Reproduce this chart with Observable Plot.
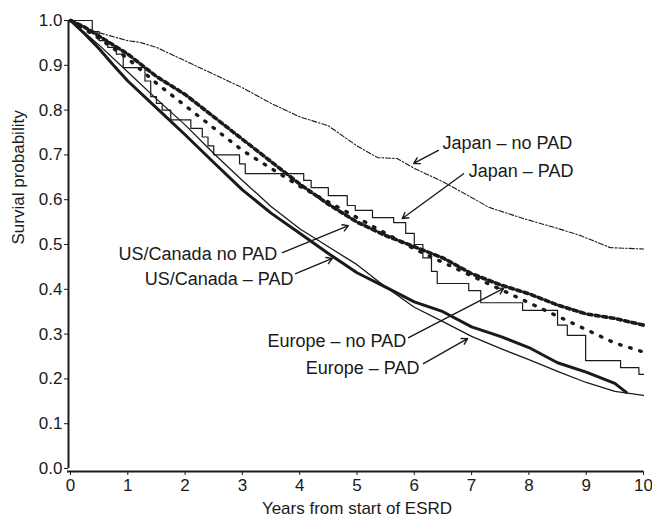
<!DOCTYPE html>
<html>
<head>
<meta charset="utf-8">
<script src="https://cdn.jsdelivr.net/npm/d3@7"></script>
<script src="https://cdn.jsdelivr.net/npm/@observablehq/plot@0.6"></script>
<style>
  html, body { margin: 0; padding: 0; background: #fff; }
  #chart { width: 652px; height: 518px; }
  svg { font-family: "Liberation Sans", Arial, Helvetica, sans-serif; }
</style>
</head>
<body>
<div id="chart"></div>
<script>
// ---- Data ----
const japanNoPadT = [0, 0.35, 1, 1.22, 1.5, 2, 2.5, 3, 3.5, 4, 4.5, 5, 5.36, 5.7, 6, 6.5, 7, 7.3, 7.9, 8.5, 8.9, 9.42, 10];
const japanNoPadS = [1, 0.978, 0.955, 0.951, 0.94, 0.91, 0.88, 0.85, 0.815, 0.785, 0.765, 0.72, 0.694, 0.692, 0.67, 0.64, 0.605, 0.583, 0.558, 0.536, 0.52, 0.493, 0.49];

const japanPadT = [0, 0.38, 0.5, 0.65, 0.8, 0.92, 1.3, 1.4, 1.5, 1.6, 1.75, 2.1, 2.3, 2.4, 2.5, 2.95, 3.05, 4.07, 4.2, 4.5, 4.83, 4.97, 5.27, 5.64, 5.85, 6.0, 6.15, 6.3, 6.4, 6.95, 7.16, 7.89, 8.5, 8.67, 8.99, 9.6, 9.92, 10];
const japanPadS = [1, 0.975, 0.955, 0.94, 0.925, 0.895, 0.865, 0.83, 0.815, 0.8, 0.778, 0.759, 0.74, 0.72, 0.7, 0.68, 0.658, 0.643, 0.627, 0.609, 0.587, 0.576, 0.56, 0.549, 0.525, 0.5, 0.47, 0.44, 0.413, 0.397, 0.37, 0.353, 0.32, 0.297, 0.241, 0.225, 0.21, 0.21];

const usNoPadT = [0, 0.25, 0.5, 1, 1.5, 2, 2.5, 3, 3.5, 4, 4.5, 5, 5.5, 6, 6.5, 7, 7.5, 8, 8.5, 9, 9.5, 10];
const usNoPadS = [1, 0.985, 0.965, 0.925, 0.875, 0.835, 0.785, 0.735, 0.685, 0.635, 0.59, 0.55, 0.52, 0.495, 0.47, 0.435, 0.41, 0.39, 0.365, 0.345, 0.335, 0.32];

const usPadT = [0, 0.25, 0.5, 0.75, 1, 1.5, 2, 2.5, 3, 3.5, 4, 4.5, 5, 5.5, 6, 6.5, 7, 7.5, 8, 8.5, 9, 9.5, 9.7];
const usPadS = [1, 0.97, 0.937, 0.9, 0.865, 0.805, 0.745, 0.683, 0.622, 0.57, 0.525, 0.48, 0.437, 0.405, 0.372, 0.35, 0.316, 0.295, 0.27, 0.236, 0.215, 0.19, 0.17];

const euNoPadT = [0, 0.5, 1, 1.5, 2, 2.5, 3, 3.5, 4, 4.5, 5, 5.5, 6, 6.5, 7, 7.5, 8, 8.5, 9, 9.5, 10];
const euNoPadS = [1, 0.96, 0.915, 0.86, 0.81, 0.76, 0.71, 0.67, 0.63, 0.595, 0.56, 0.525, 0.49, 0.46, 0.43, 0.4, 0.37, 0.34, 0.31, 0.28, 0.26];

const euPadT = [0, 0.5, 1, 1.5, 2, 2.5, 3, 3.5, 4, 4.5, 5, 5.5, 6, 6.5, 7, 7.5, 8, 8.5, 9, 9.5, 10];
const euPadS = [1, 0.945, 0.885, 0.825, 0.767, 0.703, 0.643, 0.585, 0.535, 0.495, 0.455, 0.405, 0.36, 0.328, 0.295, 0.268, 0.243, 0.217, 0.192, 0.172, 0.163];

// annotation labels and their arrows
const labelText   = ["Japan – no PAD", "Japan – PAD", "US/Canada no PAD", "US/Canada – PAD", "Europe – no PAD", "Europe – PAD"];
const labelX      = [6.49, 6.95, 3.61, 3.89, 5.86, 6.09];
const labelY      = [0.725, 0.663, 0.478, 0.422, 0.283, 0.223];
const labelAnchor = ["start", "start", "end", "end", "end", "end"];
const arrowX1 = [6.42, 6.86, 3.70, 3.93, 5.90, 6.16];
const arrowY1 = [0.71, 0.658, 0.482, 0.435, 0.292, 0.234];
const arrowX2 = [5.99, 5.79, 4.85, 4.57, 7.56, 6.93];
const arrowY2 = [0.681, 0.558, 0.542, 0.469, 0.402, 0.29];

const xTicks = [0, 1, 2, 3, 4, 5, 6, 7, 8, 9, 10];
const yTicks = [0, 0.1, 0.2, 0.3, 0.4, 0.5, 0.6, 0.7, 0.8, 0.9, 1.0];
const xTitle = "Years from start of ESRD";
const yTitle = "Survial probability";

// ---- build tables ----
const toRows = (T, S) => T.map((t, i) => ({t, s: S[i]}));
const japanNoPad = toRows(japanNoPadT, japanNoPadS);
const japanPad = toRows(japanPadT, japanPadS);
const usNoPad = toRows(usNoPadT, usNoPadS);
const usPad = toRows(usPadT, usPadS);
const euNoPad = toRows(euNoPadT, euNoPadS);
const euPad = toRows(euPadT, euPadS);
const labels = labelText.map((text, i) => ({text, x: labelX[i], y: labelY[i], anchor: labelAnchor[i]}));
const labelsStart = labels.filter(d => d.anchor === "start");
const labelsEnd = labels.filter(d => d.anchor === "end");
const arrows = arrowX1.map((x1, i) => ({x1, y1: arrowY1[i], x2: arrowX2[i], y2: arrowY2[i]}));

const ink = "#1a1a1a";
const chart = Plot.plot({
  width: 652,
  height: 518,
  marginLeft: 70,
  marginRight: 9,
  marginTop: 20,
  marginBottom: 50,
  style: {fontFamily: '"Liberation Sans", Arial, sans-serif', color: ink, background: "#fff"},
  x: {domain: [0, 10]},
  y: {domain: [0, 1]},
  marks: [
    // axes
    Plot.ruleX([0], {dx: -2, stroke: ink, strokeWidth: 2}),
    Plot.ruleY([0], {dy: 3, stroke: ink, strokeWidth: 2, insetLeft: -3}),
    Plot.axisY(yTicks, {tickSize: 4, tickPadding: 2, dx: -2, fontSize: 17, tickFormat: d3.format(".1f"), label: null, stroke: ink}),
    Plot.axisX(xTicks, {tickSize: 4, tickPadding: 3, dy: 3, fontSize: 17, tickFormat: d => String(d), label: null, stroke: ink}),
    Plot.text([xTitle], {frameAnchor: "bottom", lineAnchor: "middle", dy: 40, fontSize: 17, fill: ink}),
    Plot.text([yTitle], {frameAnchor: "left", dx: -52, rotate: -90, fontSize: 17, fill: ink}),
    // curves
    Plot.line(japanNoPad, {x: "t", y: "s", stroke: ink, strokeWidth: 1.1, strokeDasharray: "5,2,1.5,2"}),
    Plot.line(japanPad, {x: "t", y: "s", curve: "step-after", stroke: ink, strokeWidth: 1.2}),
    Plot.line(euPad, {x: "t", y: "s", stroke: ink, strokeWidth: 1.3}),
    Plot.line(usPad, {x: "t", y: "s", stroke: ink, strokeWidth: 3}),
    Plot.line(euNoPad, {x: "t", y: "s", stroke: ink, strokeWidth: 3.4, strokeDasharray: "1.5,9", strokeLinecap: "round"}),
    Plot.line(usNoPad, {x: "t", y: "s", stroke: ink, strokeWidth: 3.6, strokeDasharray: "4,3.5"}),
    // annotations
    Plot.arrow(arrows, {x1: "x1", y1: "y1", x2: "x2", y2: "y2", stroke: ink, strokeWidth: 1.4, headLength: 7, bend: 0}),
    Plot.text(labelsStart, {x: "x", y: "y", text: "text", textAnchor: "start", fontSize: 18, fill: ink}),
    Plot.text(labelsEnd, {x: "x", y: "y", text: "text", textAnchor: "end", fontSize: 18, fill: ink})
  ]
});
document.getElementById("chart").appendChild(chart);
</script>
</body>
</html>
